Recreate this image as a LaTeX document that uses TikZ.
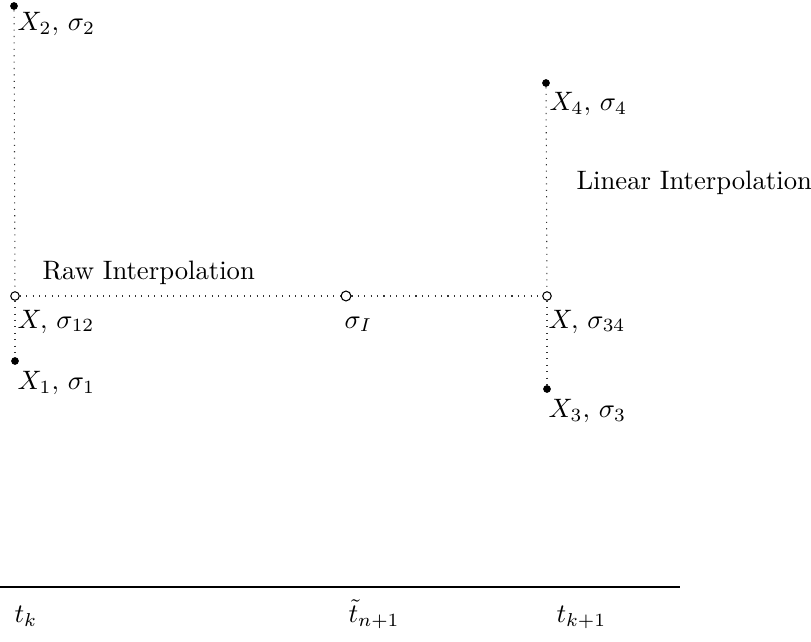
\documentclass[tikz,border=0pt]{standalone}
\begin{document}
\begin{tikzpicture}[x=0.375pt,y=-0.375pt,
  fdot/.style={circle,fill=black,inner sep=0pt,minimum size=2.9pt},
  odot/.style={circle,draw=black,fill=white,inner sep=0pt,minimum size=3.2pt,line width=0.4pt},
  bigodot/.style={odot,minimum size=3.7pt},
  lab/.style={anchor=base west,inner sep=0pt},
  conn/.style={dotted,line width=0.4pt,black!80}]
\useasboundingbox (0,0) rectangle (811,642);
% points
\node[fdot] (x2) at (14,6) {};
\node[odot] (x12) at (15,296) {};
\node[fdot] (x1) at (15,361) {};
\node[bigodot] (sI) at (346,296) {};
\node[fdot] (x4) at (546,83) {};
\node[odot] (x34) at (547,296) {};
\node[fdot] (x3) at (547,389) {};
% connectors
\draw[conn] (x2) -- (x12);
\draw[conn] (x12) -- (x1);
\draw[conn] (x12) -- (sI);
\draw[conn] (sI) -- (x34);
\draw[conn] (x4) -- (x34);
\draw[conn] (x34) -- (x3);
% labels
\node[lab] (l2) at (17,31) {$X_2,\,\sigma_2$};
\node[lab] (l4) at (549,111) {$X_4,\,\sigma_4$};
\node[lab] (lin) at (576,190) {Linear Interpolation};
\node[lab] (raw) at (42,280) {Raw Interpolation};
\node[lab] (l12) at (17,328) {$X,\,\sigma_{12}$};
\node[lab] (lI) at (344,328) {$\sigma_I$};
\node[lab] (l34) at (548,328) {$X,\,\sigma_{34}$};
\node[lab] (l1) at (17,390) {$X_1,\,\sigma_1$};
\node[lab] (l3) at (548,418) {$X_3,\,\sigma_3$};
% axis
\coordinate (a0) at (0,587);
\coordinate (a1) at (680,587);
\draw[line width=0.4pt] (a0) -- (a1);
\node[lab] (tk) at (14,622) {$t_k$};
\node[lab] (tn) at (348,622) {$\tilde{t}_{n+1}$};
\node[lab] (tk1) at (556,622) {$t_{k+1}$};
\end{tikzpicture}
\end{document}
